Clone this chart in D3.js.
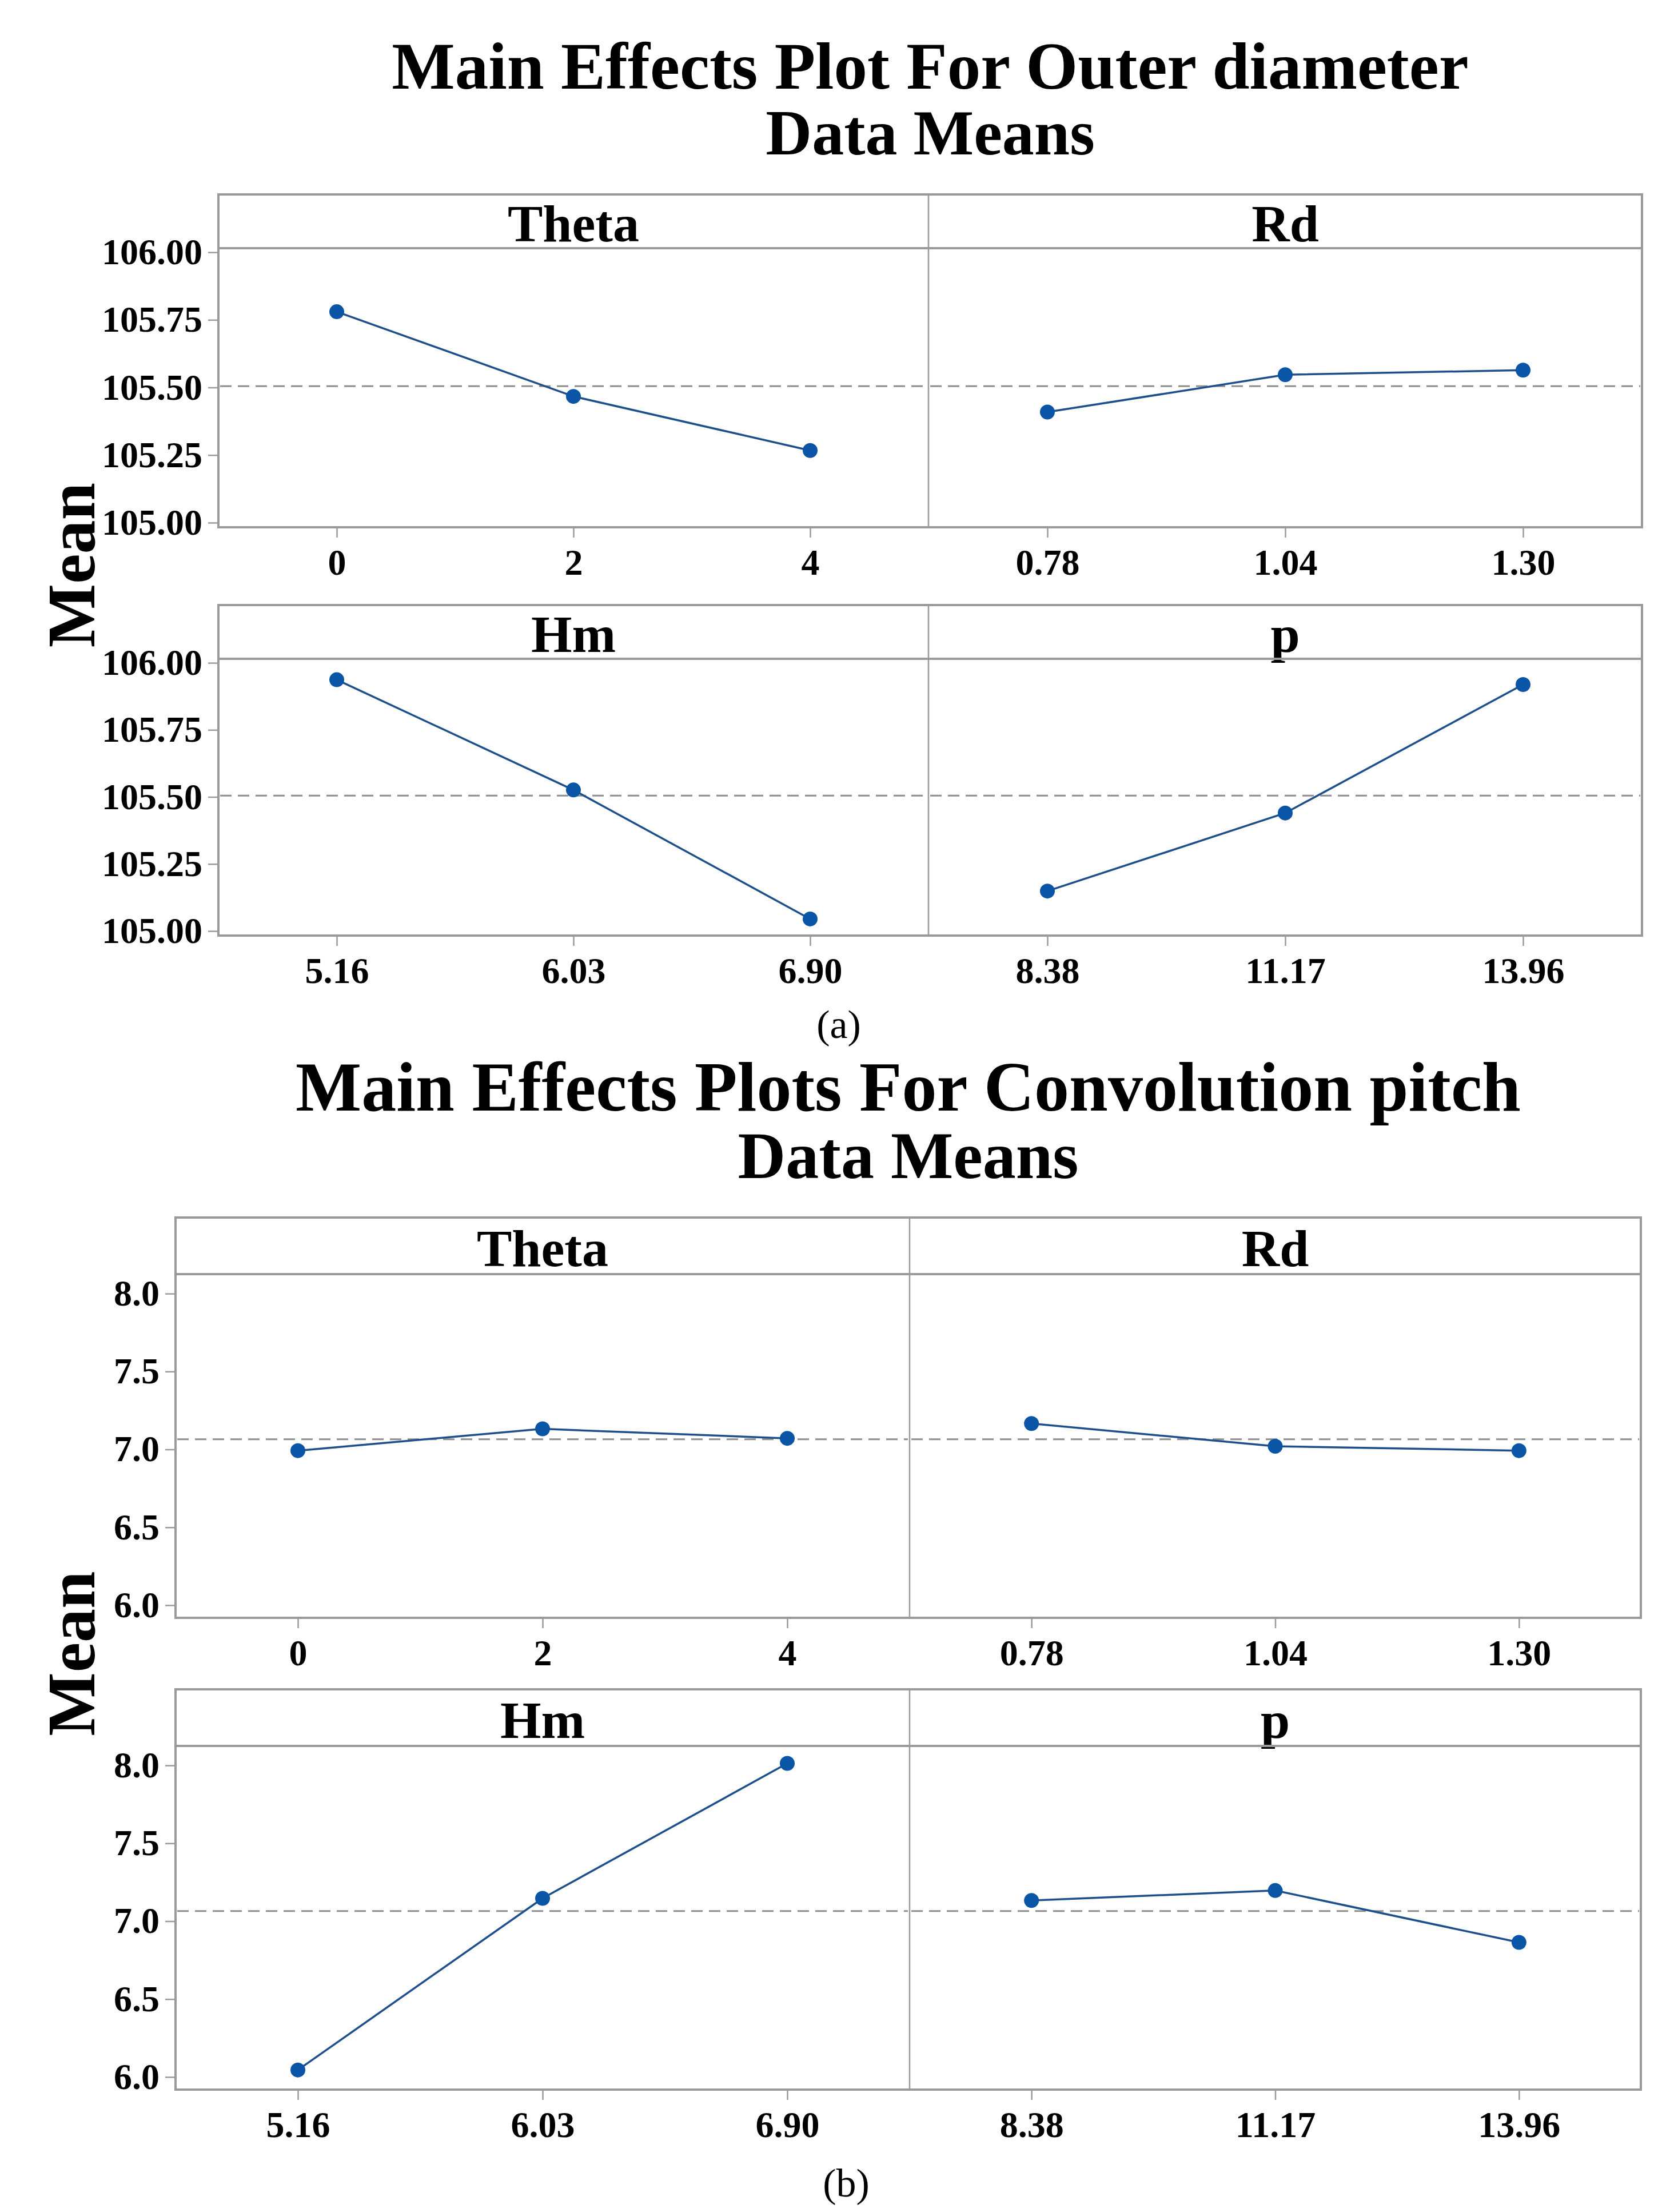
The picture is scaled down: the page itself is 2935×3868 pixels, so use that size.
<!DOCTYPE html>
<html>
<head>
<meta charset="utf-8">
<script src="https://cdn.jsdelivr.net/npm/d3@7"></script>
<style>
  body { margin: 0; background: #fff; }
  svg { display: block; }
  text { font-family: "Liberation Serif", "Times New Roman", serif; fill: #000; }
</style>
</head>
<body>
<div id="chart"></div>
<script>
// factor names and their levels (x categories)
var factors = ["Theta", "Rd", "Hm", "p"];
var thetaLevels = ["0", "2", "4"];
var rdLevels = ["0.78", "1.04", "1.30"];
var hmLevels = ["5.16", "6.03", "6.90"];
var pLevels = ["8.38", "11.17", "13.96"];

// (a) outer diameter, data means
var odTheta = [105.78, 105.467, 105.267];
var odRd = [105.409, 105.547, 105.564];
var odHm = [105.937, 105.526, 105.045];
var odP = [105.149, 105.44, 105.919];
var odMean = 105.505;
var odTicks = [105.00, 105.25, 105.50, 105.75, 106.00];

// (b) convolution pitch, data means
var cpTheta = [6.992, 7.132, 7.071];
var cpRd = [7.166, 7.02, 6.992];
var cpHm = [6.045, 7.147, 8.013];
var cpP = [7.133, 7.197, 6.864];
var cpMean = 7.065;
var cpTicks = [6.0, 6.5, 7.0, 7.5, 8.0];

var W = 2935, H = 3868;
var frameColor = "#9a9a9a";
var lineColor = "#1d4f8c";
var dotColor = "#0a55a5";

var svg = d3.select("#chart").append("svg")
    .attr("width", W)
    .attr("height", H);

function drawChart(cfg) {
  "use strict";
  var g = svg.append("g");
  var cx = (cfg.left + cfg.right) / 2;

  // two-line heading kept in one text element
  var head = g.append("text")
    .attr("text-anchor", "middle")
    .style("font-weight", "bold");
  head.append("tspan")
    .attr("x", cx).attr("y", cfg.titleY)
    .style("font-size", cfg.titleSize + "px")
    .text(cfg.title);
  head.append("tspan")
    .attr("x", cx).attr("y", cfg.subY)
    .style("font-size", cfg.subSize + "px")
    .text("Data Means");

  var levels = [thetaLevels, rdLevels, hmLevels, pLevels];
  var cols = [[cfg.left, cfg.split], [cfg.split, cfg.right]];

  cfg.rows.forEach(function (row, r) {
    var stripBottom = row.top + cfg.strip;
    var bottom = stripBottom + row.plotH;
    var y = d3.scaleLinear().domain(cfg.yDomain).range([bottom, stripBottom]);

    [0, 1].forEach(function (c) {
      var k = r * 2 + c;
      var x0 = cols[c][0], x1 = cols[c][1];
      var x = d3.scalePoint().domain(levels[k]).range([x0, x1]).padding(0.5);
      var vals = cfg.series[k];
      var pts = levels[k].map(function (lv, i) { return [lv, vals[i]]; });
      var pg = g.append("g");

      // strip label
      pg.append("text")
        .attr("x", (x0 + x1) / 2)
        .attr("y", stripBottom - cfg.stripPad)
        .attr("text-anchor", "middle")
        .style("font-size", "92px")
        .style("font-weight", "bold")
        .text(factors[k]);

      // reference mean line
      pg.append("line")
        .attr("x1", x0 + 3).attr("x2", x1 - 3)
        .attr("y1", y(cfg.mean)).attr("y2", y(cfg.mean))
        .attr("stroke", "#8e8e8e")
        .attr("stroke-width", 3)
        .attr("stroke-dasharray", "20,11");

      pg.append("path")
        .datum(pts)
        .attr("fill", "none")
        .attr("stroke", lineColor)
        .attr("stroke-width", 3.5)
        .attr("d", d3.line()
          .x(function (d) { return x(d[0]); })
          .y(function (d) { return y(d[1]); }));

      pg.selectAll("circle")
        .data(pts)
        .enter().append("circle")
        .attr("cx", function (d) { return x(d[0]); })
        .attr("cy", function (d) { return y(d[1]); })
        .attr("r", 13)
        .attr("fill", dotColor);

      // x axis
      var xa = pg.append("g")
        .attr("transform", "translate(0," + bottom + ")")
        .call(d3.axisBottom(x).tickSize(18).tickPadding(20));
      xa.select(".domain").remove();
      xa.selectAll("line").attr("stroke", frameColor).attr("stroke-width", 2.5);
      xa.selectAll("text")
        .style("font-size", "64px")
        .style("font-weight", "bold")
        .style("font-family", "'Liberation Serif', 'Times New Roman', serif");

      // y axis on the left panel only
      if (c === 0) {
        var ya = pg.append("g")
          .attr("transform", "translate(" + x0 + ",0)")
          .call(d3.axisLeft(y).tickValues(cfg.ticks)
            .tickFormat(d3.format(cfg.fmt)).tickSize(18).tickPadding(10));
        ya.select(".domain").remove();
        ya.selectAll("line").attr("stroke", frameColor).attr("stroke-width", 2.5);
        ya.selectAll("text")
          .style("font-size", "64px")
          .style("font-weight", "bold")
          .style("font-family", "'Liberation Serif', 'Times New Roman', serif");
      }
    });

    // frame of the row
    g.append("rect")
      .attr("x", cfg.left).attr("y", row.top)
      .attr("width", cfg.right - cfg.left)
      .attr("height", bottom - row.top)
      .attr("fill", "none")
      .attr("stroke", frameColor)
      .attr("stroke-width", 4);
    g.append("line")
      .attr("x1", cfg.left).attr("x2", cfg.right)
      .attr("y1", stripBottom).attr("y2", stripBottom)
      .attr("stroke", frameColor)
      .attr("stroke-width", 4);
    g.append("line")
      .attr("x1", cfg.split).attr("x2", cfg.split)
      .attr("y1", row.top).attr("y2", bottom)
      .attr("stroke", frameColor)
      .attr("stroke-width", 2.5);
  });

  var midY = (cfg.rows[0].top + cfg.rows[1].top + cfg.strip + cfg.rows[1].plotH) / 2;
  g.append("text")
    .attr("transform", "translate(" + cfg.meanX + "," + midY + ") rotate(-90)")
    .attr("text-anchor", "middle")
    .style("font-size", "118px")
    .style("font-weight", "bold")
    .text("Mean");

  g.append("text")
    .attr("x", cfg.capX).attr("y", cfg.capY)
    .attr("text-anchor", "middle")
    .style("font-size", "70px")
    .text(cfg.caption);
}

drawChart({
  title: "Main Effects Plot For Outer diameter",
  titleY: 155, titleSize: 117, subY: 270, subSize: 112,
  left: 382, right: 2872, split: 1624,
  strip: 94, stripPad: 12,
  rows: [{top: 340, plotH: 488}, {top: 1058, plotH: 484}],
  yDomain: [104.983, 106.015],
  ticks: odTicks, fmt: ".2f", mean: odMean,
  series: [odTheta, odRd, odHm, odP],
  meanX: 165, caption: "(a)", capX: 1467, capY: 1815
});

drawChart({
  title: "Main Effects Plots For Convolution pitch",
  titleY: 1942, titleSize: 122, subY: 2060, subSize: 116,
  left: 307, right: 2870, split: 1591,
  strip: 99, stripPad: 14,
  rows: [{top: 2129, plotH: 601}, {top: 2954, plotH: 601}],
  yDomain: [5.919, 8.125],
  ticks: cpTicks, fmt: ".1f", mean: cpMean,
  series: [cpTheta, cpRd, cpHm, cpP],
  meanX: 165, caption: "(b)", capX: 1480, capY: 3841
});
</script>
</body>
</html>
